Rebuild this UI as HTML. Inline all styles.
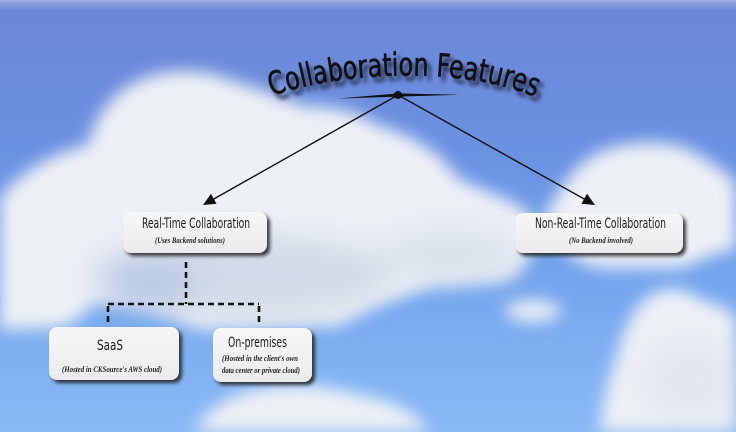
<!DOCTYPE html>
<html><head><meta charset="utf-8">
<style>
html,body{margin:0;padding:0;width:736px;height:432px;overflow:hidden;background:#6f9ae4;}
svg{display:block}
.t{font-family:"Liberation Sans Narrow","DejaVu Sans Condensed","Liberation Sans",sans-serif;fill:#1e1e1e;}
.s{font-family:"Liberation Serif","DejaVu Serif",serif;font-style:italic;font-weight:bold;fill:#222;}
</style></head><body>
<svg width="736" height="432" viewBox="0 0 736 432" xmlns="http://www.w3.org/2000/svg">
<defs>
<linearGradient id="sky" x1="0" y1="0" x2="0" y2="1">
<stop offset="0" stop-color="#a3aadc"/>
<stop offset="0.008" stop-color="#8c9bda"/>
<stop offset="0.025" stop-color="#6c86d6"/>
<stop offset="0.35" stop-color="#6a92e2"/>
<stop offset="0.7" stop-color="#76a8ee"/>
<stop offset="1" stop-color="#8abaf4"/>
</linearGradient>
<filter id="blur" filterUnits="userSpaceOnUse" x="0" y="0" width="736" height="432"><feGaussianBlur stdDeviation="8"/></filter>
<filter id="blur2" filterUnits="userSpaceOnUse" x="0" y="0" width="736" height="432"><feGaussianBlur stdDeviation="14"/></filter>
<filter id="tshadow" filterUnits="userSpaceOnUse" x="200" y="20" width="400" height="120"><feGaussianBlur stdDeviation="2.2"/></filter>
<filter id="bshadow" filterUnits="userSpaceOnUse" x="0" y="150" width="736" height="282"><feGaussianBlur stdDeviation="1.8"/></filter>
<linearGradient id="box" x1="0" y1="0" x2="0" y2="1"><stop offset="0" stop-color="#f7f7f8"/><stop offset="1" stop-color="#ebebed"/></linearGradient>
<path id="arc" d="M 272 96 C 346 70, 470 66, 542 100"/>
</defs>

<!-- sky -->
<rect x="0" y="0" width="736" height="432" fill="url(#sky)"/>

<!-- clouds -->
<g filter="url(#blur)" fill="#edf0f5">
<path d="M 0 210 L 0 198 C 20 170, 60 150, 88 145 C 95 115, 115 90, 140 80 C 165 68, 205 68, 230 80 C 260 88, 285 100, 305 106 C 330 105, 360 112, 375 124 C 405 132, 440 150, 455 175 C 475 190, 510 195, 530 215 C 540 240, 530 270, 505 282 L 430 288 C 400 298, 360 312, 340 326 L 200 330 C 160 312, 120 302, 92 304 C 82 318, 70 328, 50 328 L 0 330 Z"/>
<path d="M 545 215 C 560 190, 575 160, 605 150 C 630 140, 670 140, 690 150 C 710 160, 725 172, 736 182 L 736 250 C 720 250, 700 262, 680 268 L 600 268 C 570 262, 550 240, 545 215 Z"/>
<path d="M 736 432 L 600 432 C 603 400, 610 372, 616 360 C 622 330, 636 300, 656 292 C 672 285, 690 290, 702 300 C 720 305, 732 310, 736 318 Z"/>
<path d="M 195 432 C 205 410, 232 392, 265 388 C 292 383, 330 385, 352 393 C 392 400, 418 412, 428 432 Z"/>
<ellipse cx="533" cy="311" rx="28" ry="11"/>
</g>
<!-- cloud shading -->
<g filter="url(#blur2)">
<ellipse cx="240" cy="275" rx="150" ry="40" fill="#b9c8de" opacity="0.55"/>
<ellipse cx="150" cy="285" rx="45" ry="25" fill="#a6bde0" opacity="0.55"/>
<ellipse cx="450" cy="255" rx="70" ry="25" fill="#c5d0e2" opacity="0.45"/>
<ellipse cx="690" cy="380" rx="45" ry="40" fill="#d3dae6" opacity="0.4"/>
</g>

<!-- title -->
<text font-family="'Liberation Sans Narrow','DejaVu Sans Condensed','Liberation Sans',sans-serif" font-size="32" fill="#000" opacity="0.85" transform="translate(4,5)" filter="url(#tshadow)"><textPath href="#arc" textLength="268" lengthAdjust="spacingAndGlyphs">Collaboration Features</textPath></text>
<text font-family="'Liberation Sans Narrow','DejaVu Sans Condensed','Liberation Sans',sans-serif" font-size="32" fill="#111" stroke="#111" stroke-width="0.6"><textPath href="#arc" textLength="268" lengthAdjust="spacingAndGlyphs">Collaboration Features</textPath></text>

<!-- swoosh + dot -->
<polygon points="337,98.6 398,93.4 460,94.8 398,96.6" fill="#111"/>
<circle cx="398" cy="95" r="4" fill="#111"/>

<!-- arrows -->
<line x1="398" y1="95" x2="212" y2="200" stroke="#111" stroke-width="1.4"/>
<polygon points="203,205 216.5,203.8 211,193.8" fill="#111"/>
<line x1="398" y1="95" x2="586" y2="200" stroke="#111" stroke-width="1.4"/>
<polygon points="595,205 581.5,203.8 587,193.8" fill="#111"/>

<!-- dashed connectors -->
<g stroke="#151515" stroke-width="2.6" fill="none" stroke-dasharray="6 4">
<path d="M186 262 V304"/>
<path d="M108 304 H259"/>
<path d="M108 306 V322"/>
<path d="M259 306 V322"/>
</g>

<!-- box shadows -->
<g filter="url(#bshadow)" fill="#1a1a1a" opacity="0.85">
<rect x="126" y="215" width="144" height="41" rx="8"/>
<rect x="518" y="216" width="168" height="40" rx="8"/>
<rect x="52" y="330" width="130" height="53" rx="8"/>
<rect x="216" y="331" width="99" height="54" rx="8"/>
</g>
<!-- boxes -->
<g fill="url(#box)">
<rect x="123" y="212" width="144" height="41" rx="8"/>
<rect x="515" y="213" width="168" height="40" rx="8"/>
<rect x="49" y="327" width="130" height="53" rx="8"/>
<rect x="213" y="328" width="99" height="54" rx="8"/>
</g>

<!-- box text -->
<text class="t" x="142" y="228" font-size="14" textLength="108" lengthAdjust="spacingAndGlyphs">Real-Time Collaboration</text>
<text class="s" x="155" y="243" font-size="8.5" textLength="70" lengthAdjust="spacingAndGlyphs">(Uses Backend solutions)</text>

<text class="t" x="535" y="228" font-size="14" textLength="131" lengthAdjust="spacingAndGlyphs">Non-Real-Time Collaboration</text>
<text class="s" x="569" y="243" font-size="8.5" textLength="64" lengthAdjust="spacingAndGlyphs">(No Backend involved)</text>

<text class="t" x="97" y="350" font-size="14" textLength="26" lengthAdjust="spacingAndGlyphs">SaaS</text>
<text class="s" x="62" y="372" font-size="8.5" textLength="100" lengthAdjust="spacingAndGlyphs">(Hosted in CKSource's AWS cloud)</text>

<text class="t" x="228" y="347" font-size="14" textLength="59" lengthAdjust="spacingAndGlyphs">On-premises</text>
<text class="s" x="222" y="361" font-size="8.5" textLength="76" lengthAdjust="spacingAndGlyphs">(Hosted in the client's own</text>
<text class="s" x="222" y="373" font-size="8.5" textLength="78" lengthAdjust="spacingAndGlyphs">data center or private cloud)</text>
</svg>
</body></html>
